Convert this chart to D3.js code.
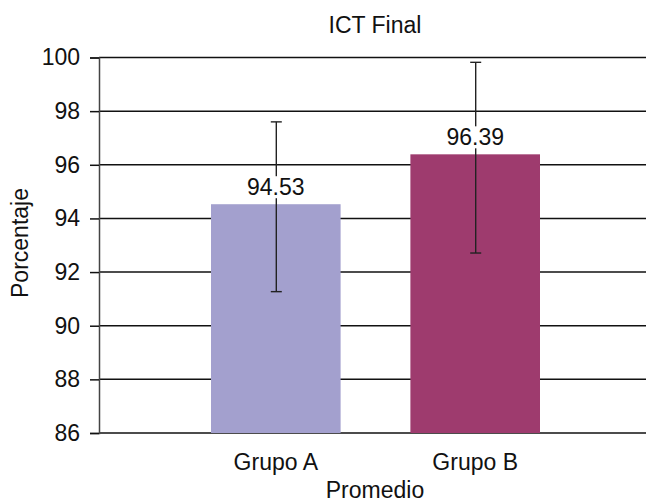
<!DOCTYPE html>
<html><head><meta charset="utf-8">
<script src="https://cdn.jsdelivr.net/npm/d3@7"></script>
<style>body{margin:0;background:#fff}svg{display:block}text{font-family:"Liberation Sans",Arial,sans-serif;fill:#111}</style>
</head><body>
<svg id="c" width="646" height="503"></svg>
<script>
const categories = ["Grupo A", "Grupo B"];
const means = [94.53, 96.39];
const errLow = [91.27, 92.71];
const errHigh = [97.6, 99.82];
const yTicks = [86, 88, 90, 92, 94, 96, 98, 100];
const colors = ["#a3a0ce", "#9e3b6e"];

const svg = d3.select("#c");
const fs = 23;
const y = d3.scaleLinear().domain([86, 100]).range([433, 57.5]);
const x = d3.scaleBand().domain(categories).range([211, 540]).paddingInner(0.35).paddingOuter(0);
const left = 99, right = 646;

// gridlines
svg.append("g").selectAll("line").data(yTicks).join("line")
  .attr("x1", left).attr("x2", right)
  .attr("y1", d => y(d)).attr("y2", d => y(d))
  .attr("stroke", "#111").attr("stroke-width", 1.5);

// y axis
const yAxis = d3.axisLeft(y).tickValues(yTicks).tickSize(9).tickPadding(10).tickFormat(d3.format("d"));
const ga = svg.append("g").attr("transform", `translate(${left},0)`).call(yAxis);
ga.select(".domain").attr("stroke", "#444").attr("stroke-width", 1.5);
ga.selectAll(".tick line").attr("stroke", "#111").attr("stroke-width", 1.5);
ga.selectAll(".tick text").attr("font-size", fs).attr("font-family", "Liberation Sans, Arial, sans-serif").attr("fill", "#111");

// bars
svg.append("g").selectAll("rect").data(categories).join("rect")
  .attr("x", d => x(d)).attr("width", x.bandwidth())
  .attr("y", (d, i) => y(means[i])).attr("height", (d, i) => y(86) - y(means[i]))
  .attr("fill", (d, i) => colors[i]);

// error bars
const eb = svg.append("g").attr("stroke", "#222").attr("stroke-width", 1.4);
categories.forEach((c, i) => {
  const cx = x(c) + x.bandwidth() / 2 + 0.5;
  eb.append("line").attr("x1", cx).attr("x2", cx).attr("y1", y(errHigh[i])).attr("y2", y(errLow[i]));
  eb.append("line").attr("x1", cx - 5.5).attr("x2", cx + 5.5).attr("y1", y(errHigh[i])).attr("y2", y(errHigh[i]));
  eb.append("line").attr("x1", cx - 5.5).attr("x2", cx + 5.5).attr("y1", y(errLow[i])).attr("y2", y(errLow[i]));
});

// value labels with white background
categories.forEach((c, i) => {
  const cx = x(c) + x.bandwidth() / 2;
  const g = svg.append("g");
  const t = g.append("text").attr("x", cx).attr("y", y(means[i]) - 9)
    .attr("text-anchor", "middle").attr("font-size", fs).text(d3.format(".2f")(means[i]));
  const bb = t.node().getBBox();
  g.insert("rect", "text").attr("x", bb.x - 1).attr("y", bb.y + 2).attr("width", bb.width + 2).attr("height", bb.height - 4).attr("fill", "#fff");
});

// x labels
svg.append("g").selectAll("text").data(categories).join("text")
  .attr("x", d => x(d) + x.bandwidth() / 2).attr("y", 470)
  .attr("text-anchor", "middle").attr("font-size", fs).text(d => d);

// titles
svg.append("text").attr("x", 375).attr("y", 33).attr("text-anchor", "middle").attr("font-size", fs).text("ICT Final");
svg.append("text").attr("x", 375).attr("y", 498).attr("text-anchor", "middle").attr("font-size", fs).text("Promedio");
svg.append("text").attr("transform", "translate(28,243) rotate(-90)").attr("text-anchor", "middle").attr("font-size", fs).text("Porcentaje");
</script>
</body></html>
